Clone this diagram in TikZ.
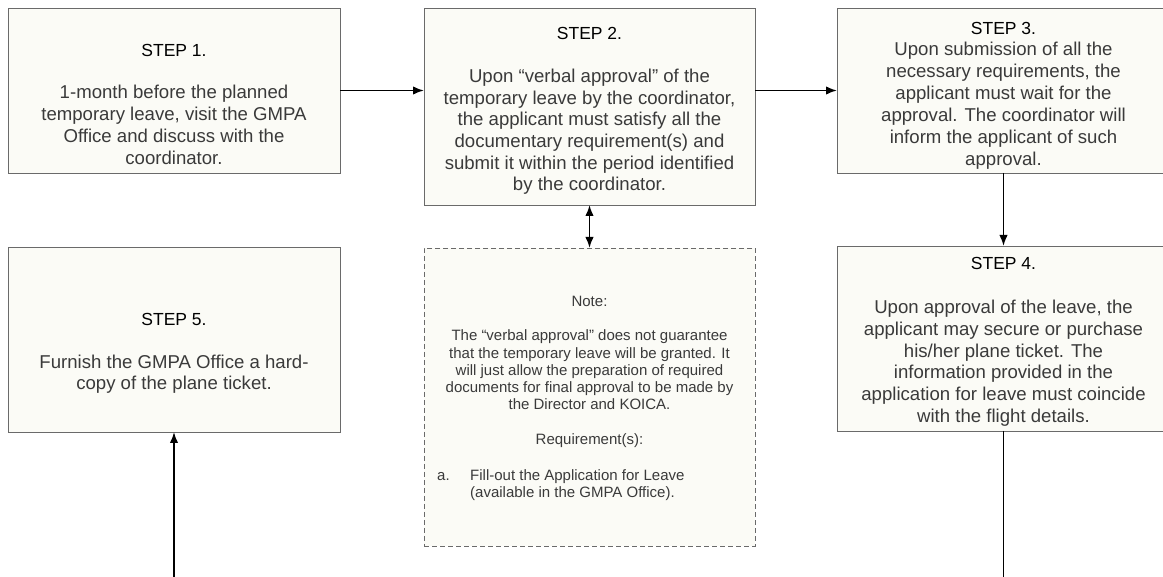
\documentclass[tikz,border=0pt]{standalone}
\usepackage{fontspec}
\setmainfont{Liberation Sans}
\usetikzlibrary{positioning, arrows.meta, calc}

\definecolor{boxfill}{HTML}{FBFBF6}
\definecolor{boxline}{HTML}{6A6A6A}
\definecolor{txtgray}{HTML}{3A3A3A}

\tikzset{
    stepbox/.style={draw=boxline, fill=boxfill, line width=0.9pt, inner sep=0pt, outer sep=0pt},
    notebox/.style={stepbox, dash pattern=on 5pt off 3pt},
    steptext/.style={align=center, inner sep=0pt, text=txtgray, font=\fontsize{18.6}{#1}\selectfont},
    steptext/.default=22.2,
    notetext/.style={align=center, inner sep=0pt, text=txtgray, font=\fontsize{15}{17.25}\selectfont},
    flow/.style={->, line width=1.8pt},
}
\newcommand{\steptitle}[1]{{\color{black}\fontsize{17.5}{20}\selectfont STEP #1.}}

\begin{document}
\begin{tikzpicture}[x=1pt, y=-1pt, >={Latex[length=11pt, width=8.5pt]}]
    \useasboundingbox (0,0) rectangle (1163,577);
    \coordinate (bottomedge) at (0,580);

    \node[stepbox, minimum width=332pt, minimum height=165pt] (s1) at (174,90.5) {};
    \node[stepbox, minimum width=331pt, minimum height=197pt, right=84pt of s1.north east, anchor=north west] (s2) {};
    \node[stepbox, minimum width=333pt, minimum height=165pt, right=82pt of s2.north east, anchor=north west] (s3) {};
    \node[stepbox, minimum width=332pt, minimum height=185pt, below=73pt of s3.south] (s4) {};
    \node[stepbox, minimum width=332pt, minimum height=185pt, below=74pt of s1.south] (s5) {};
    \node[notebox, minimum width=331pt, minimum height=298pt, below=43pt of s2.south] (note) {};

    \node[steptext, below=35.8pt of s1.north] (t1) {\steptitle{1}\\[19.6pt]
        1-month before the planned\\ temporary leave, visit the GMPA\\
        Office and discuss with the\\ coordinator.};
    \node[steptext=21.7, below=19.3pt of s2.north] (t2) {\steptitle{2}\\[21pt]
        Upon “verbal approval” of the\\ temporary leave by the coordinator,\\
        the applicant must satisfy all the\\ documentary requirement(s) and\\
        submit it within the period identified\\ by the coordinator.};
    \node[steptext=22, below=14.3pt of s3.north] (t3) {\steptitle{3}\\[-1.3pt]
        Upon submission of all the\\ necessary requirements, the\\
        applicant must wait for the\\ approval. The coordinator will\\
        inform the applicant of such\\ approval.};
    \node[steptext=21.7, below=11.5pt of s4.north] (t4) {\steptitle{4}\\[22.1pt]
        Upon approval of the leave, the\\ applicant may secure or purchase\\
        his/her plane ticket. The\\ information provided in the\\
        application for leave must coincide\\ with the flight details.};
    \node[steptext=21.6, below=66.5pt of s5.north] (t5) {\steptitle{5}\\[20.6pt]
        Furnish the GMPA Office a hard-\\ copy of the plane ticket.};

    \node[notetext, below=48.2pt of note.north] (nt) {Note:\\[16.9pt]
        The “verbal approval” does not guarantee\\
        that the temporary leave will be granted. It\\
        will just allow the preparation of required\\
        documents for final approval to be made by\\
        the Director and KOICA.\\[17.75pt]
        Requirement(s):};
    \node[notetext, anchor=base west] (req) at ($(note.north west)+(13,232)$)
        {\begin{tabular}[t]{@{}p{33pt}@{}l@{}}a. & Fill-out the Application for Leave\\
        & (available in the GMPA Office).\end{tabular}};

    \draw[flow] (s1.east) -- (s1.east -| s2.west);
    \draw[flow] (s3.west -| s2.east) -- (s3.west);
    \draw[flow] (s3.south) -- (s3.south |- s4.north);
    \draw[flow, <->] (s2.south) -- (note.north);
    \draw[line width=1.8pt] (s4.south) -- (s4.south |- bottomedge);
    \draw[flow] (s5.south |- bottomedge) -- (s5.south);
\end{tikzpicture}
\end{document}
